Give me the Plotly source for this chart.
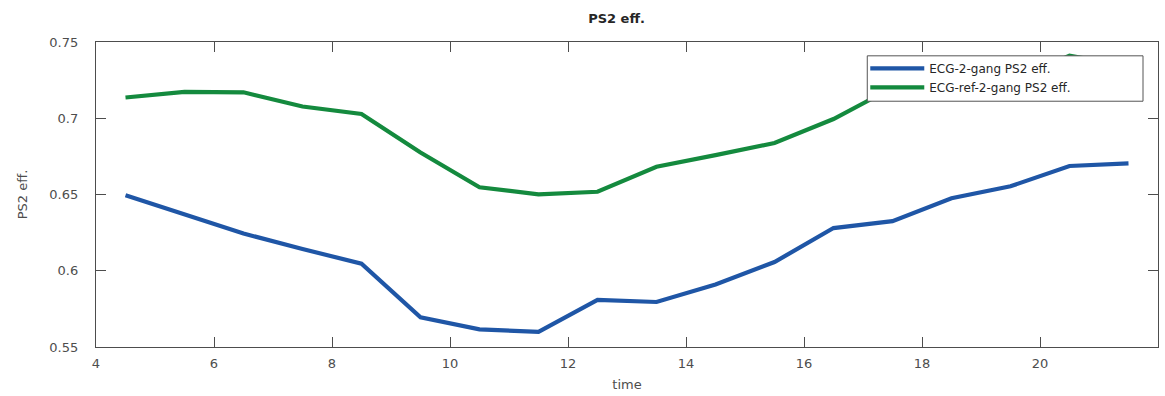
import plotly.graph_objects as go

# Sample times (hours) and photosystem II efficiency for both treatments
time = [4.5, 5.5, 6.5, 7.5, 8.5, 9.5, 10.5, 11.5, 12.5,
        13.5, 14.5, 15.5, 16.5, 17.5, 18.5, 19.5, 20.5, 21.5]
ecg_2_gang = [0.6495, 0.6369, 0.6244, 0.6143, 0.6046, 0.5694, 0.5616, 0.5599, 0.5809,
              0.5795, 0.5910, 0.6057, 0.6280, 0.6325, 0.6475, 0.6554, 0.6687, 0.6704]
ecg_ref_2_gang = [0.7136, 0.7173, 0.7170, 0.7077, 0.7028, 0.6775, 0.6547, 0.6501, 0.6518,
                  0.6682, 0.6758, 0.6838, 0.6995, 0.7200, 0.7220, 0.7240, 0.7410, 0.7340]

series_names = ["ECG-2-gang PS2 eff.", "ECG-ref-2-gang PS2 eff."]
series_colors = ["#1f56a6", "#148a3e"]

x_ticks = [4, 6, 8, 10, 12, 14, 16, 18, 20, 22]
y_ticks = [0.55, 0.6, 0.65, 0.7, 0.75]
y_tick_labels = ["0.55", "0.6", "0.65", "0.7", "0.75"]

FONT = "DejaVu Sans, Verdana, sans-serif"
AXIS_GREY = "#4d4d4d"

# Plot-area geometry in pixels (used to place the legend box)
PLOT_L, PLOT_R, PLOT_T, PLOT_B = 96, 1159, 42, 351
PW, PH = PLOT_R - PLOT_L, PLOT_B - PLOT_T


def px_x(p):
    return (p - PLOT_L) / PW


def px_y(p):
    return (PLOT_B - p) / PH


fig = go.Figure()
for name, values, color in zip(series_names, [ecg_2_gang, ecg_ref_2_gang], series_colors):
    fig.add_trace(go.Scatter(
        x=time, y=values, mode="lines", name=name,
        line=dict(color=color, width=4.2),
    ))

axis_common = dict(
    showline=True, linecolor=AXIS_GREY, linewidth=1.3,
    mirror="ticks", ticks="inside", ticklen=10, tickwidth=1.3, tickcolor=AXIS_GREY,
    showgrid=False, zeroline=False,
    tickfont=dict(family=FONT, size=13, color=AXIS_GREY),
)

fig.update_xaxes(
    range=[4, 22], tickvals=x_ticks,
    title=dict(text="time", font=dict(family=FONT, size=13, color=AXIS_GREY), standoff=10),
    ticklabelstandoff=4,
    **axis_common,
)
fig.update_yaxes(
    range=[0.55, 0.75], tickvals=y_ticks, ticktext=y_tick_labels,
    title=dict(text="PS2 eff.", font=dict(family=FONT, size=13, color=AXIS_GREY), standoff=18),
    ticklabelstandoff=14,
    **axis_common,
)

# Opaque legend box that covers the curves beneath it
fig.add_shape(
    type="rect", xref="paper", yref="paper", layer="above",
    x0=px_x(868), x1=px_x(1144), y0=px_y(102), y1=px_y(56),
    fillcolor="white", line=dict(color="#555555", width=1),
)

fig.update_layout(
    width=1165, height=396,
    margin=dict(l=PLOT_L, r=1165 - PLOT_R, t=PLOT_T, b=396 - PLOT_B),
    paper_bgcolor="white", plot_bgcolor="white",
    title=dict(
        text="<b>PS2 eff.</b>", x=616.5 / 1165, xanchor="center",
        y=1 - 18 / 396, yanchor="middle",
        font=dict(family=FONT, size=13, color="#262626"),
    ),
    legend=dict(
        x=px_x(866), y=px_y(54), xanchor="left", yanchor="top",
        bgcolor="rgba(0,0,0,0)", borderwidth=0,
        font=dict(family=FONT, size=12, color="#262626"),
        itemwidth=54, tracegroupgap=0,
    ),
    showlegend=True,
)

fig.write_html("out.html")
